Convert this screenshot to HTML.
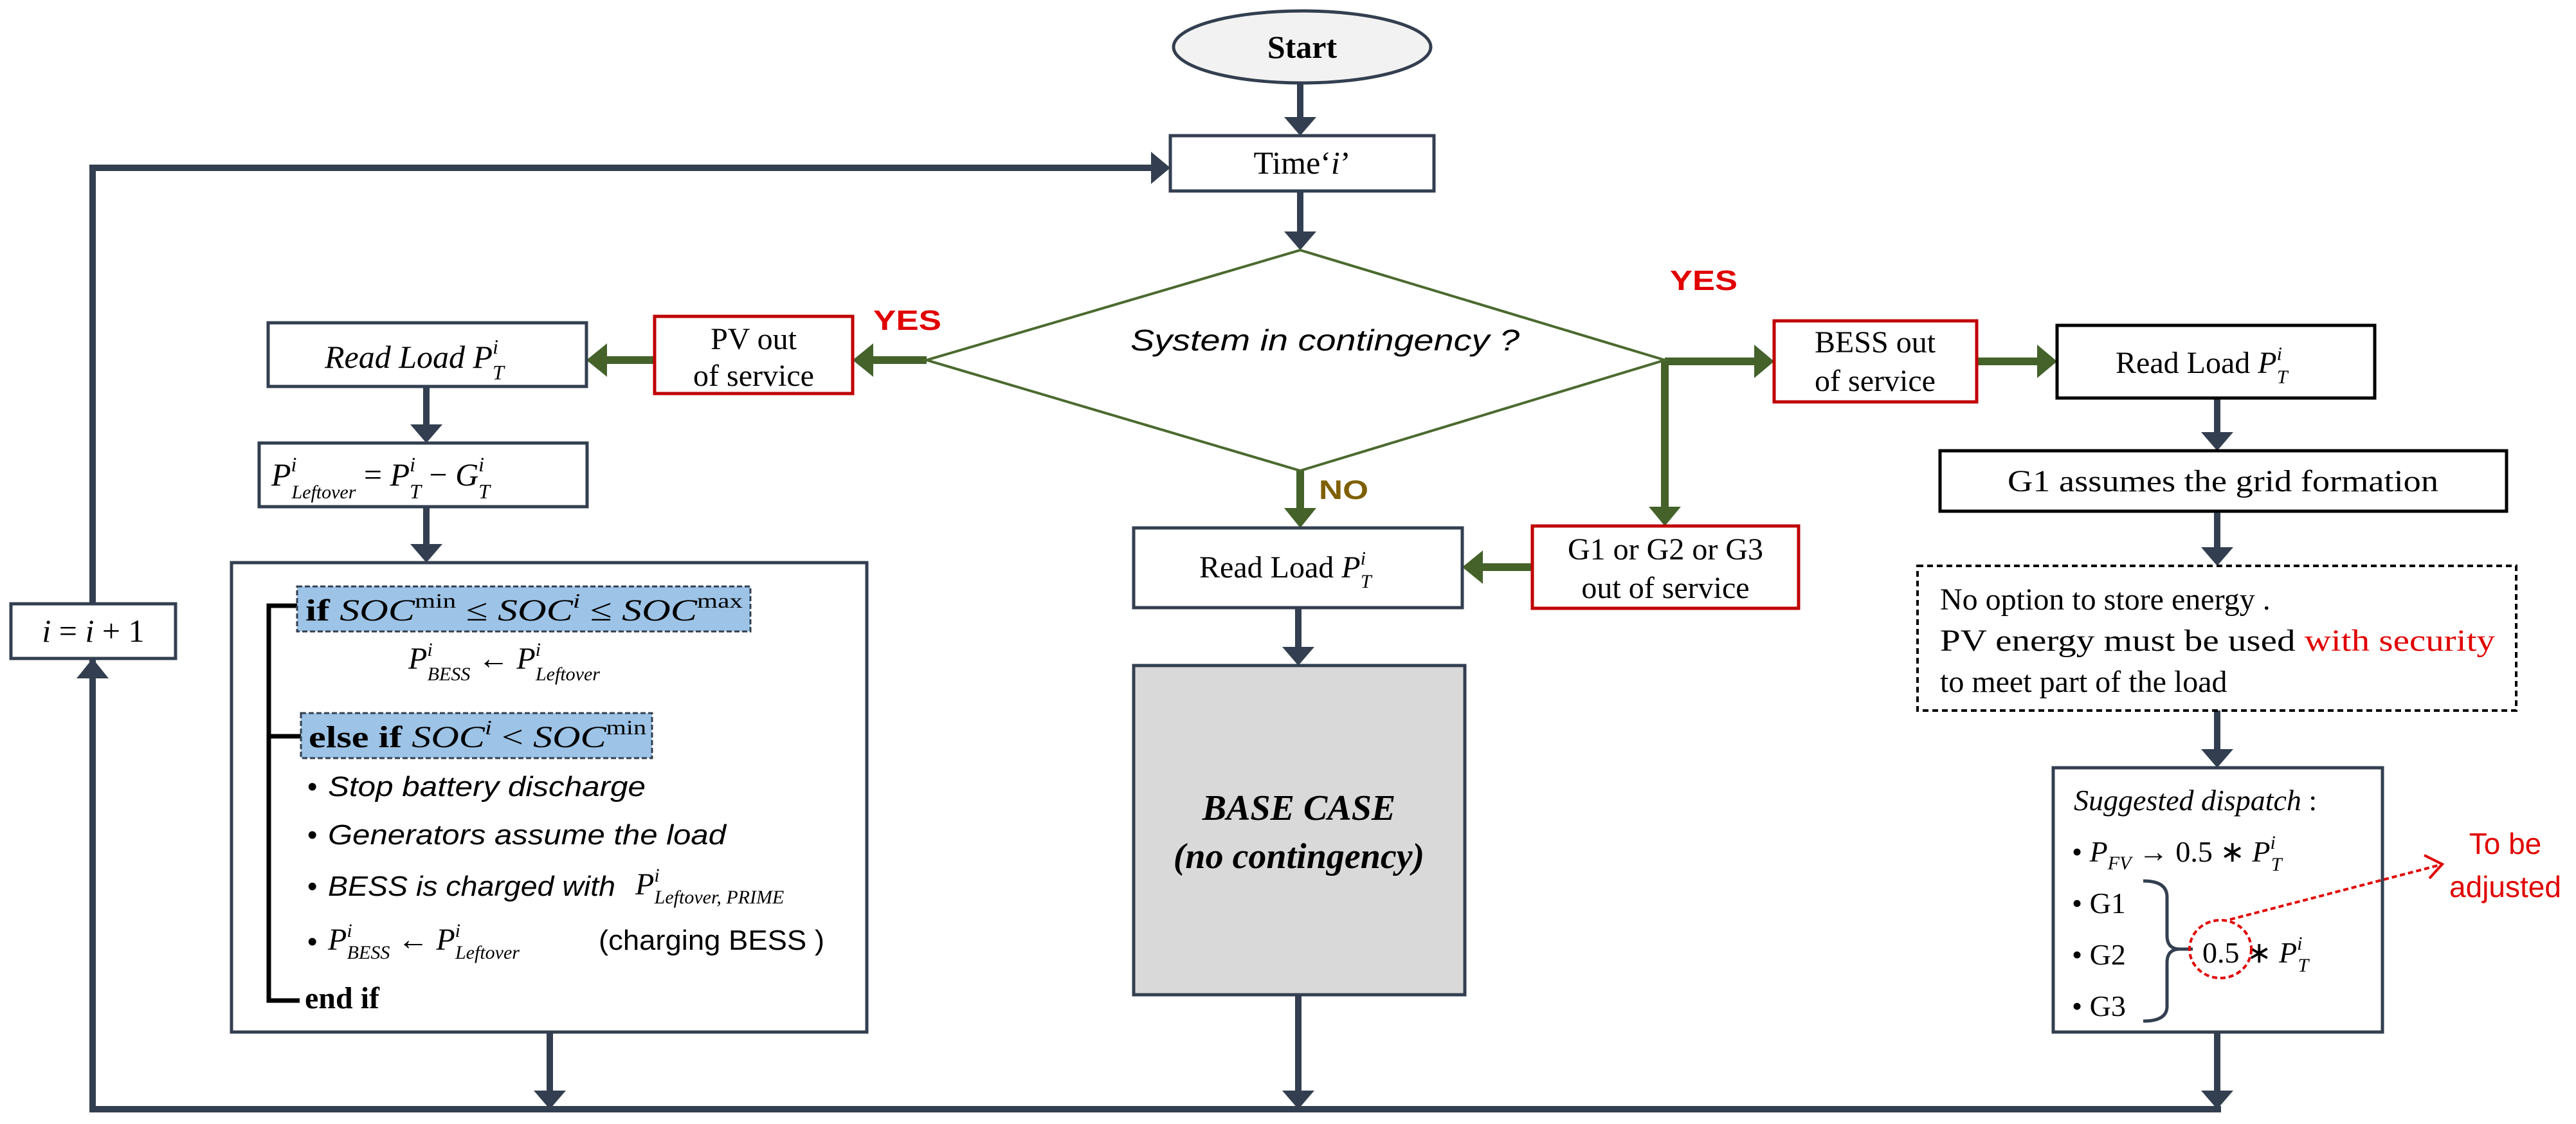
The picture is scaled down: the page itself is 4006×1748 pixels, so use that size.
<!DOCTYPE html>
<html><head><meta charset="utf-8"><style>
html,body{margin:0;padding:0;background:#fff;}
svg{display:block;}
text{font-family:"Liberation Serif",serif;fill:#000;}
.s{font-family:"Liberation Sans",sans-serif;}
</style></head><body>
<svg width="4006" height="1748" viewBox="0 0 4006 1748" xmlns="http://www.w3.org/2000/svg">
<g stroke="#333f50" stroke-width="10" fill="none">
<polyline points="144,1725 144,261 1790,261"/>
<line x1="139" y1="1725" x2="3454" y2="1725"/>
<line x1="144" y1="1725" x2="144" y2="1055"/>
<line x1="2022" y1="129" x2="2022" y2="185"/>
<line x1="2022" y1="297" x2="2022" y2="362"/>
<line x1="663" y1="601" x2="663" y2="662"/>
<line x1="663" y1="788" x2="663" y2="848"/>
<line x1="855" y1="1605" x2="855" y2="1698"/>
<line x1="2019" y1="945" x2="2019" y2="1008"/>
<line x1="2019" y1="1547" x2="2019" y2="1698"/>
<line x1="3448" y1="619" x2="3448" y2="674"/>
<line x1="3448" y1="795" x2="3448" y2="853"/>
<line x1="3448" y1="1105" x2="3448" y2="1167"/>
<line x1="3448" y1="1605" x2="3448" y2="1698"/>
</g>
<g fill="#333f50">
<polygon points="1790,236 1820,261 1790,286"/>
<polygon points="119,1055 169,1055 144,1024"/>
<polygon points="1997,182 2047,182 2022,211"/>
<polygon points="1997,360 2047,360 2022,389"/>
<polygon points="638,660 688,660 663,689"/>
<polygon points="638,846 688,846 663,875"/>
<polygon points="830,1696 880,1696 855,1725"/>
<polygon points="1994,1006 2044,1006 2019,1035"/>
<polygon points="1994,1696 2044,1696 2019,1725"/>
<polygon points="3423,672 3473,672 3448,701"/>
<polygon points="3423,851 3473,851 3448,880"/>
<polygon points="3423,1165 3473,1165 3448,1194"/>
<polygon points="3423,1696 3473,1696 3448,1725"/>
</g>
<g stroke="#44622a" stroke-width="12" fill="none">
<line x1="1441" y1="560" x2="1355" y2="560"/>
<line x1="1018" y1="560" x2="940" y2="560"/>
<line x1="2022" y1="732" x2="2022" y2="790"/>
<line x1="2589" y1="560" x2="2589" y2="790"/>
<line x1="2589" y1="562" x2="2730" y2="562"/>
<line x1="3074" y1="562" x2="3170" y2="562"/>
<line x1="2383" y1="882" x2="2300" y2="882"/>
</g>
<g fill="#44622a">
<polygon points="1358,534 1358,586 1326,560"/>
<polygon points="944,534 944,586 912,560"/>
<polygon points="1997,790 2047,790 2022,821"/>
<polygon points="2564,788 2614,788 2589,818"/>
<polygon points="2728,536 2728,588 2759,562"/>
<polygon points="3168,536 3168,588 3199,562"/>
<polygon points="2306,856 2306,908 2274,882"/>
</g>
<polygon points="2022,389 2589,560 2022,732 1441,560" fill="#fff" stroke="#4a6a2e" stroke-width="4"/>
<text x="1758" y="545" font-size="46" font-style="italic" class="s" textLength="605" lengthAdjust="spacingAndGlyphs">System in contingency ?</text>
<ellipse cx="2025" cy="73" rx="200" ry="56" fill="#f2f2f2" stroke="#333f50" stroke-width="5"/>
<text x="2025" y="90" font-size="50" font-weight="bold" text-anchor="middle">Start</text>
<rect x="1820" y="211" width="410" height="86" fill="#fff" stroke="#333f50" stroke-width="5"/>
<text x="2025" y="270" font-size="50" text-anchor="middle">Time‘<tspan font-style="italic">i</tspan>’</text>
<text x="1358" y="513" font-size="44" font-weight="bold" class="s" style="fill:#e00000" textLength="106" lengthAdjust="spacingAndGlyphs">YES</text>
<text x="2597" y="451" font-size="44" font-weight="bold" class="s" style="fill:#e00000" textLength="105" lengthAdjust="spacingAndGlyphs">YES</text>
<text x="2051" y="776" font-size="42" font-weight="bold" class="s" style="fill:#7f6000" textLength="77" lengthAdjust="spacingAndGlyphs">NO</text>
<rect x="1018" y="492" width="308" height="120" fill="#fff" stroke="#c00000" stroke-width="5"/>
<text x="1172" y="543" font-size="48" text-anchor="middle">PV out</text>
<text x="1172" y="600" font-size="48" text-anchor="middle">of  service</text>
<rect x="417" y="502" width="495" height="99" fill="#fff" stroke="#333f50" stroke-width="5"/>
<text x="505" y="572" font-size="50" font-style="italic">Read Load  P<tspan font-size="32" dy="-22">i</tspan><tspan font-size="32" dx="-9" dy="40">T</tspan></text>
<rect x="403" y="689" width="510" height="99" fill="#fff" stroke="#333f50" stroke-width="5"/>
<text x="422" y="755" font-size="50" font-style="italic">P<tspan font-size="32" dy="-22">i</tspan><tspan font-size="30" dx="-8" dy="42">Leftover</tspan><tspan dy="-20" font-style="normal"> = </tspan>P<tspan font-size="32" dy="-22">i</tspan><tspan font-size="32" dx="-9" dy="42">T</tspan><tspan dy="-20" font-style="normal"> − </tspan>G<tspan font-size="32" dy="-22">i</tspan><tspan font-size="32" dx="-9" dy="42">T</tspan></text>
<rect x="360" y="875" width="988" height="730" fill="#fff" stroke="#333f50" stroke-width="5"/>
<polyline points="466,942 418,942 418,1556 466,1556" fill="none" stroke="#000" stroke-width="7"/>
<line x1="418" y1="1145" x2="468" y2="1145" stroke="#000" stroke-width="7"/>
<rect x="462" y="912" width="705" height="70" fill="#9dc3e6" stroke="#333f50" stroke-width="3" stroke-dasharray="8,4"/>
<text x="475" y="965" font-size="48" textLength="680" lengthAdjust="spacingAndGlyphs"><tspan font-weight="bold">if </tspan><tspan font-style="italic">SOC</tspan><tspan font-size="32" dy="-20">min</tspan><tspan dy="20"> ≤ </tspan><tspan font-style="italic">SOC</tspan><tspan font-size="32" font-style="italic" dy="-20">i</tspan><tspan dy="20"> ≤ </tspan><tspan font-style="italic">SOC</tspan><tspan font-size="32" dy="-20">max</tspan></text>
<text x="635" y="1040" font-size="48" font-style="italic">P<tspan font-size="30" dy="-20">i</tspan><tspan font-size="30" dx="-8" dy="38">BESS</tspan><tspan dy="-18" font-style="normal"> ← </tspan>P<tspan font-size="30" dy="-20">i</tspan><tspan font-size="30" dx="-8" dy="38">Leftover</tspan></text>
<rect x="468" y="1109" width="546" height="70" fill="#9dc3e6" stroke="#333f50" stroke-width="3" stroke-dasharray="8,4"/>
<text x="480" y="1162" font-size="48" textLength="525" lengthAdjust="spacingAndGlyphs"><tspan font-weight="bold">else if </tspan><tspan font-style="italic">SOC</tspan><tspan font-size="32" font-style="italic" dy="-20">i</tspan><tspan dy="20"> &lt; </tspan><tspan font-style="italic">SOC</tspan><tspan font-size="32" dy="-20">min</tspan></text>
<g font-size="44">
<text x="478" y="1238" class="s">•</text>
<text x="510" y="1238" class="s" font-style="italic" textLength="494" lengthAdjust="spacingAndGlyphs">Stop battery discharge</text>
<text x="478" y="1313" class="s">•</text>
<text x="510" y="1313" class="s" font-style="italic" textLength="619" lengthAdjust="spacingAndGlyphs">Generators assume the load</text>
<text x="478" y="1393" class="s">•</text>
<text x="510" y="1393" class="s" font-style="italic" textLength="447" lengthAdjust="spacingAndGlyphs">BESS is charged with</text>
<text x="478" y="1479" class="s">•</text>
</g>
<text x="988" y="1391" font-size="48" font-style="italic">P<tspan font-size="30" dy="-20">i</tspan><tspan font-size="30" dx="-8" dy="34">Leftover, PRIME</tspan></text>
<text x="510" y="1477" font-size="48" font-style="italic">P<tspan font-size="30" dy="-20">i</tspan><tspan font-size="30" dx="-8" dy="34">BESS</tspan><tspan dy="-14" font-style="normal"> ← </tspan>P<tspan font-size="30" dy="-20">i</tspan><tspan font-size="30" dx="-8" dy="34">Leftover</tspan></text>
<text x="931" y="1477" font-size="44" class="s" textLength="351" lengthAdjust="spacingAndGlyphs">(charging BESS )</text>
<text x="474" y="1568" font-size="48" font-weight="bold">end if</text>
<rect x="17" y="939" width="256" height="85" fill="#fff" stroke="#333f50" stroke-width="5"/>
<text x="145" y="998" font-size="50" text-anchor="middle"><tspan font-style="italic">i</tspan> = <tspan font-style="italic">i</tspan> + 1</text>
<rect x="1763" y="821" width="511" height="124" fill="#fff" stroke="#333f50" stroke-width="5"/>
<text x="1865" y="898" font-size="48">Read Load <tspan font-style="italic">P</tspan><tspan font-size="30" font-style="italic" dy="-20">i</tspan><tspan font-size="30" font-style="italic" dx="-8" dy="36">T</tspan></text>
<rect x="2383" y="818" width="414" height="128" fill="#fff" stroke="#c00000" stroke-width="5"/>
<text x="2590" y="870" font-size="48" text-anchor="middle">G1 or G2 or G3</text>
<text x="2590" y="930" font-size="48" text-anchor="middle">out of service</text>
<rect x="1763" y="1035" width="515" height="512" fill="#d9d9d9" stroke="#333f50" stroke-width="5"/>
<text x="2020" y="1275" font-size="56" font-weight="bold" font-style="italic" text-anchor="middle">BASE CASE</text>
<text x="2020" y="1350" font-size="56" font-weight="bold" font-style="italic" text-anchor="middle">(no contingency)</text>
<rect x="2759" y="499" width="315" height="126" fill="#fff" stroke="#c00000" stroke-width="5"/>
<text x="2916" y="548" font-size="48" text-anchor="middle">BESS out</text>
<text x="2916" y="608" font-size="48" text-anchor="middle">of service</text>
<rect x="3199" y="506" width="494" height="113" fill="#fff" stroke="#000" stroke-width="5"/>
<text x="3290" y="580" font-size="48">Read Load <tspan font-style="italic">P</tspan><tspan font-size="30" font-style="italic" dy="-20">i</tspan><tspan font-size="30" font-style="italic" dx="-8" dy="36">T</tspan></text>
<rect x="3017" y="701" width="881" height="94" fill="#fff" stroke="#000" stroke-width="5"/>
<text x="3122" y="764" font-size="48" textLength="670" lengthAdjust="spacingAndGlyphs">G1 assumes the grid formation</text>
<rect x="2982" y="880" width="931" height="225" fill="#fff" stroke="#000" stroke-width="4" stroke-dasharray="9,6"/>
<text x="3017" y="948" font-size="48">No option to store energy .</text>
<text x="3017" y="1012" font-size="48" textLength="863" lengthAdjust="spacingAndGlyphs">PV energy must be used <tspan style="fill:#e00000">with security</tspan></text>
<text x="3017" y="1076" font-size="48">to meet part of the load</text>
<rect x="3193" y="1194" width="512" height="411" fill="#fff" stroke="#333f50" stroke-width="5"/>
<text x="3225" y="1260" font-size="46" font-style="italic">Suggested dispatch <tspan font-style="normal">:</tspan></text>
<text x="3222" y="1340" font-size="46">• <tspan font-style="italic">P</tspan><tspan font-style="italic" font-size="30" dy="12">FV</tspan><tspan dy="-12"> → 0.5 ∗ </tspan><tspan font-style="italic">P</tspan><tspan font-size="30" font-style="italic" dy="-20">i</tspan><tspan font-size="30" font-style="italic" dx="-7" dy="34">T</tspan></text>
<text x="3222" y="1420" font-size="46">• G1</text>
<text x="3222" y="1500" font-size="46">• G2</text>
<text x="3222" y="1580" font-size="46">• G3</text>
<path d="M3333,1370 Q3370,1370 3370,1395 L3370,1455 Q3370,1476 3390,1476 Q3370,1476 3370,1497 L3370,1565 Q3370,1588 3333,1588" fill="none" stroke="#333f50" stroke-width="5"/>
<line x1="3390" y1="1476" x2="3410" y2="1476" stroke="#333f50" stroke-width="5"/>
<text x="3425" y="1497" font-size="46">0.5 ∗ <tspan font-style="italic">P</tspan><tspan font-size="30" font-style="italic" dy="-20">i</tspan><tspan font-size="30" font-style="italic" dx="-7" dy="34">T</tspan></text>
<ellipse cx="3453" cy="1476" rx="48" ry="45" fill="none" stroke="#e00000" stroke-width="4" stroke-dasharray="8,5"/>
<line x1="3468" y1="1430" x2="3795" y2="1345" stroke="#e00000" stroke-width="4" stroke-dasharray="8,5"/>
<polyline points="3770,1330 3798,1344 3778,1366" fill="none" stroke="#e00000" stroke-width="4"/>
<text x="3896" y="1328" font-size="46" class="s" style="fill:#e00000" text-anchor="middle">To be</text>
<text x="3896" y="1395" font-size="46" class="s" style="fill:#e00000" text-anchor="middle">adjusted</text>
</svg>
</body></html>
